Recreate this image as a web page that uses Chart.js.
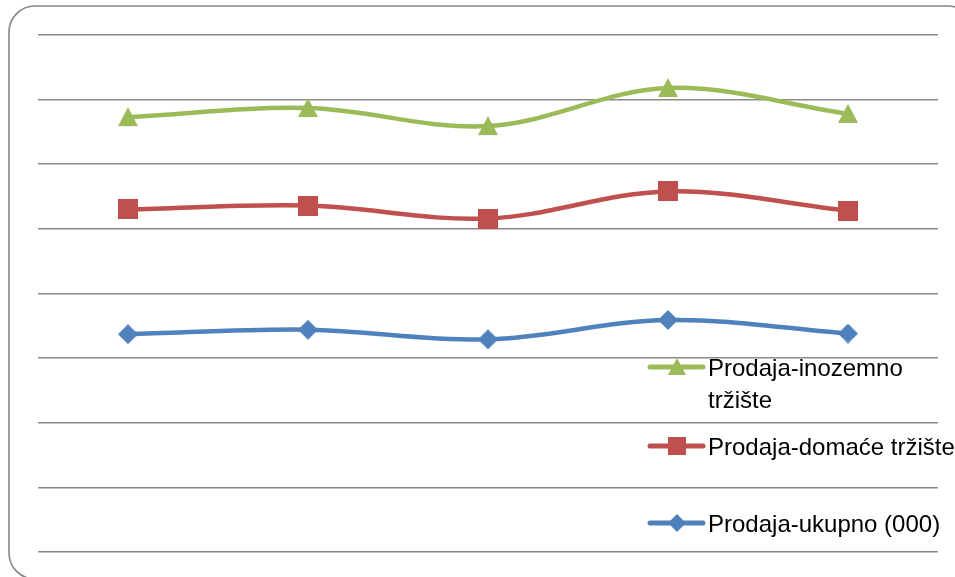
<!DOCTYPE html>
<html>
<head>
<meta charset="utf-8">
<script src="https://cdn.jsdelivr.net/npm/chart.js@4/dist/chart.umd.min.js"></script>
<style>
  html, body { margin: 0; padding: 0; background: #ffffff; overflow: hidden; }
  #wrap { width: 955px; height: 577px; }
</style>
</head>
<body>
<div id="wrap"><canvas id="c" width="955" height="577"></canvas></div>
<script>
// ---- data (in gridline units) ----
const categories = ["1", "2", "3", "4", "5"];
const seriesNames = ["Prodaja-ukupno (000)", "Prodaja-domaće tržište", "Prodaja-inozemno tržište"];
const ukupno   = [3.37, 3.44, 3.29, 3.59, 3.38];
const domace   = [5.30, 5.36, 5.16, 5.58, 5.28];
const inozemno = [6.73, 6.87, 6.59, 7.18, 6.78];
const yTicks   = [0, 1, 2, 3, 4, 5, 6, 7, 8];

const colors = ["#4F81BD", "#C0504D", "#9BBB59"];

function makeMarker(shape, color, size) {
  const cv = document.createElement('canvas');
  cv.width = size; cv.height = size;
  const g = cv.getContext('2d');
  g.fillStyle = color;
  g.beginPath();
  if (shape === 'triangle') {
    g.moveTo(size / 2, 0);
    g.lineTo(size, size - 1);
    g.lineTo(0, size - 1);
  } else if (shape === 'square') {
    g.rect(0, 0, size, size);
  } else {
    g.moveTo(size / 2, 0);
    g.lineTo(size, size / 2);
    g.lineTo(size / 2, size);
    g.lineTo(0, size / 2);
  }
  g.closePath();
  g.fill();
  return cv;
}

const shapes = ['diamond', 'square', 'triangle'];
const markers = shapes.map((s, i) => makeMarker(s, colors[i], 20));
const legendMarkers = shapes.map((s, i) => makeMarker(s, colors[i], 18));

const frameLegend = {
  id: 'frameLegend',
  beforeDraw(chart) {
    const ctx = chart.ctx;
    ctx.save();
    ctx.strokeStyle = '#878787';
    ctx.lineWidth = 1.6;
    ctx.beginPath();
    ctx.roundRect(9, 6, 965, 573, 26);
    ctx.stroke();
    ctx.restore();
  },
  afterDraw(chart) {
    const ctx = chart.ctx;
    ctx.save();
    ctx.font = '24px "Liberation Sans", Arial, sans-serif';
    ctx.fillStyle = '#000000';
    ctx.textBaseline = 'alphabetic';
    const order = [2, 1, 0];
    const rowY = [367, 446, 523];
    const lineH = 32;
    const maxW = 255;
    order.forEach((di, r) => {
      const ds = chart.data.datasets[di];
      const y = rowY[r];
      ctx.strokeStyle = ds.borderColor;
      ctx.lineWidth = 5;
      ctx.lineCap = 'round';
      ctx.beginPath();
      ctx.moveTo(650, y);
      ctx.lineTo(703, y);
      ctx.stroke();
      const m = legendMarkers[di];
      ctx.drawImage(m, 677 - m.width / 2, y - m.height / 2);
      // wrap label
      const words = ds.label.split(' ');
      const lines = [];
      let cur = '';
      words.forEach(w => {
        const t = cur ? cur + ' ' + w : w;
        if (cur && ctx.measureText(t).width > maxW) { lines.push(cur); cur = w; }
        else cur = t;
      });
      lines.push(cur);
      lines.forEach((ln, k) => ctx.fillText(ln, 708, y + 9 + k * lineH));
    });
    ctx.restore();
  }
};

const mk = (i, data) => ({
  label: seriesNames[i],
  data: data,
  borderColor: colors[i],
  backgroundColor: colors[i],
  borderWidth: 4.5,
  tension: 0.35,
  pointStyle: markers[i],
  pointRadius: 10,
  pointHoverRadius: 10,
  fill: false
});

new Chart(document.getElementById('c'), {
  type: 'line',
  data: {
    labels: categories,
    datasets: [mk(0, ukupno), mk(1, domace), mk(2, inozemno)]
  },
  options: {
    responsive: false,
    animation: false,
    devicePixelRatio: 1,
    layout: { padding: { left: 38, top: 35, right: 17, bottom: 25 } },
    plugins: { legend: { display: false }, tooltip: { enabled: false } },
    scales: {
      x: {
        type: 'category',
        display: false,
        offset: true
      },
      y: {
        min: yTicks[0],
        max: yTicks[yTicks.length - 1],
        afterBuildTicks: (axis) => { axis.ticks = yTicks.map(v => ({ value: v })); },
        ticks: { display: false },
        border: { display: false },
        grid: { color: '#8A8A8A', lineWidth: 1.6, drawTicks: false, tickLength: 0 }
      }
    }
  },
  plugins: [frameLegend]
});
</script>
</body>
</html>
